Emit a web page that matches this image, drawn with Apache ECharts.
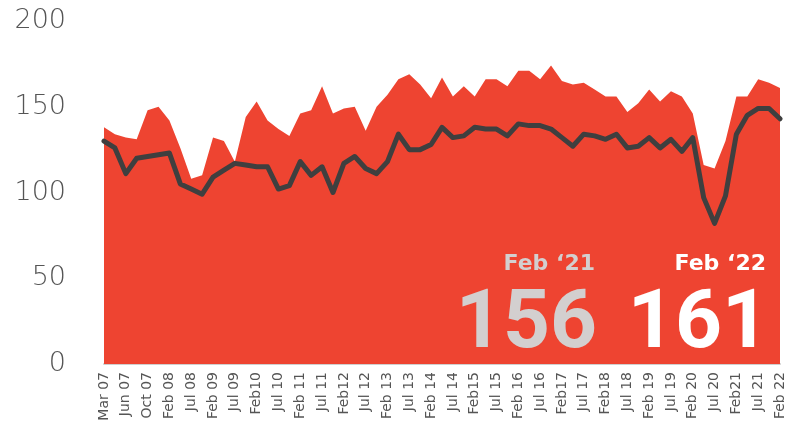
<!DOCTYPE html>
<html>
<head>
<meta charset="utf-8">
<script src="https://cdn.jsdelivr.net/npm/echarts@6/dist/echarts.min.js"></script>
<style>
  html, body { margin: 0; padding: 0; background: #fff; }
  #chart { width: 787px; height: 434px; }
</style>
</head>
<body>
<div id="chart"></div>
<script>
  // tick labels shown under every second data point
  const tickLabels = [
    'Mar 07', 'Jun 07', 'Oct 07', 'Feb 08', 'Jul 08', 'Feb 09', 'Jul 09', 'Feb10',
    'Jul 10', 'Feb 11', 'Jul 11', 'Feb12', 'Jul 12', 'Feb 13', 'Jul 13', 'Feb 14',
    'Jul 14', 'Feb15', 'Jul 15', 'Feb 16', 'Jul 16', 'Feb17', 'Jul 17', 'Feb18',
    'Jul 18', 'Feb 19', 'Jul 19', 'Feb 20', 'Jul 20', 'Feb21', 'Jul 21', 'Feb 22'
  ];

  // red area
  const areaValues = [
    138, 134, 132, 131, 148, 150, 142, 126, 108, 110, 132, 130, 118, 144, 153, 142,
    137, 133, 146, 148, 162, 146, 149, 150, 136, 150, 157, 166, 169, 163, 155, 167,
    156, 162, 156, 166, 166, 162, 171, 171, 166, 174, 165, 163, 164, 160, 156, 156,
    147, 152, 160, 153, 159, 156, 146, 116, 114, 130, 156, 156, 166, 164, 161
  ];

  // dark line
  const lineValues = [
    130, 126, 111, 120, 121, 122, 123, 105, 102, 99, 109, 113, 117, 116, 115, 115,
    102, 104, 118, 110, 115, 100, 117, 121, 114, 111, 118, 134, 125, 125, 128, 138,
    132, 133, 138, 137, 137, 133, 140, 139, 139, 137, 132, 127, 134, 133, 131, 134,
    126, 127, 132, 126, 131, 124, 132, 97, 82, 98, 134, 145, 149, 149, 143
  ];

  // highlighted readings
  const calloutLabels = ['Feb ‘21', 'Feb ‘22'];
  const calloutValues = [156, 161];

  const categories = areaValues.map((v, i) => (i % 2 === 0 ? tickLabels[i / 2] : ''));

  const chart = echarts.init(document.getElementById('chart'));

  const option = {
    animation: false,
    grid: {
      left: 104,
      right: 5,
      top: 21,
      bottom: 70,
    },
    xAxis: {
      type: 'category',
      data: categories,
      boundaryGap: false,
      axisLine: {
        show: true,
        lineStyle: { color: '#cfcfcf', width: 2 },
      },
      axisTick: { show: false },
      axisLabel: {
        interval: 1,
        rotate: 90,
        margin: 8,
        color: '#555',
        fontSize: 14,
        fontFamily: 'DejaVu Sans',
      },
    },
    yAxis: {
      type: 'value',
      min: 0,
      max: 200,
      interval: 50,
      axisLine: { show: false },
      axisTick: { show: false },
      splitLine: { show: false },
      axisLabel: {
        margin: 38,
        color: '#555',
        fontSize: 27,
        fontFamily: 'DejaVu Sans',
        fontWeight: 'lighter',
      },
    },
    series: [
      {
        name: 'area',
        type: 'line',
        data: areaValues,
        symbol: 'none',
        lineStyle: { width: 0 },
        areaStyle: { color: '#ee4431', opacity: 1 },
        itemStyle: { color: '#ee4431' },
        z: 1,
      },
      {
        name: 'line',
        type: 'line',
        data: lineValues,
        symbol: 'none',
        lineStyle: { color: '#3f3f3f', width: 5, join: 'round', cap: 'round' },
        itemStyle: { color: '#3f3f3f' },
        z: 2,
      },
    ],
    graphic: {
      z: 100,
      elements: [
        {
          type: 'text',
          z: 100,
          right: 192,
          top: 253,
          style: {
            text: calloutLabels[0],
            fill: '#d3cfcf',
            font: 'bold 22px "DejaVu Sans"',
          },
        },
        {
          type: 'text',
          z: 100,
          right: 190,
          top: 285,
          style: {
            text: String(calloutValues[0]),
            fill: '#d3cfcf',
            font: 'bold 82px Roboto',
          },
        },
        {
          type: 'text',
          z: 100,
          right: 21,
          top: 253,
          style: {
            text: calloutLabels[1],
            fill: '#ffffff',
            font: 'bold 22px "DejaVu Sans"',
          },
        },
        {
          type: 'text',
          z: 100,
          right: 18,
          top: 285,
          style: {
            text: String(calloutValues[1]),
            fill: '#ffffff',
            font: 'bold 82px Roboto',
          },
        },
      ],
    },
  };

  chart.setOption(option);
</script>
</body>
</html>
